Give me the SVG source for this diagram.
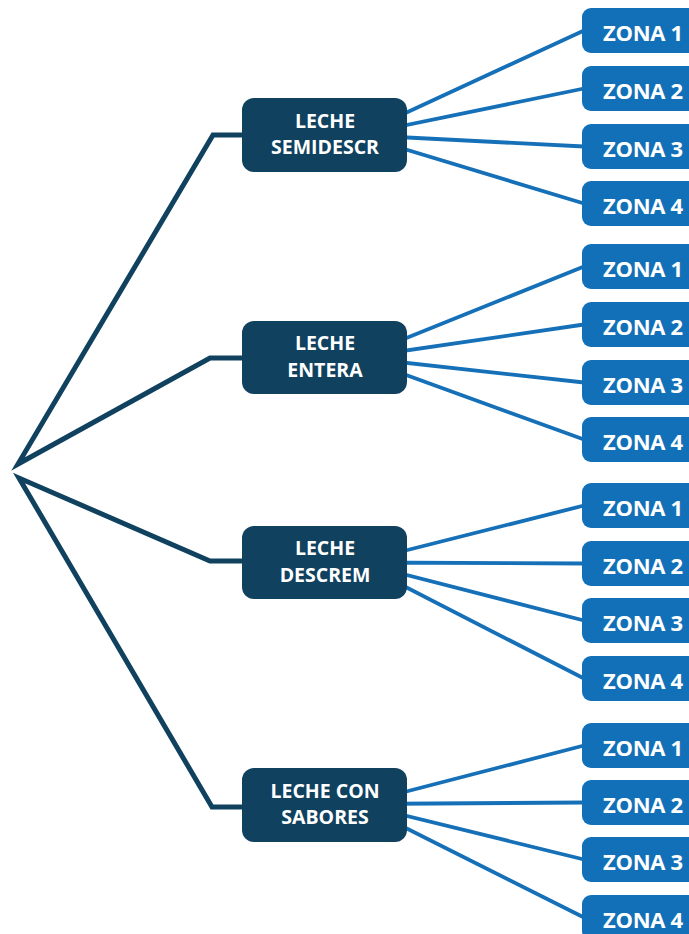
<svg xmlns="http://www.w3.org/2000/svg" width="689" height="934" viewBox="0 0 689 934">
<style>
.trunk{fill:none;stroke:#10425f;stroke-width:5;stroke-linejoin:miter;stroke-miterlimit:6}
.branch{fill:none;stroke:#1570b8;stroke-width:3.8}
.cat rect{fill:#10425f}
.zone rect{fill:#1270b8}
.cat text{font-family:"Open Sans","Liberation Sans",sans-serif;font-weight:bold;font-size:19.5px;fill:#fff;text-anchor:middle}
.zone text{font-family:"Open Sans","Liberation Sans",sans-serif;font-weight:bold;font-size:22px;fill:#fff;letter-spacing:-0.3px}
</style>
<rect width="689" height="934" fill="#fff"/>
<g id="connectors">
<path class="trunk" d="M245,135 L213,135 L18,464 L210,358 L245,358"/>
<path class="trunk" d="M245,561 L210,561 L19,478 L212,807 L245,807"/>
<path class="branch" d="M358,135 L584,30.5 M358,135 L584,88.5 M358,135 L584,146.5 M358,135 L584,203.5"/>
<path class="branch" d="M358,357.5 L584,266.5 M358,357.5 L584,324.5 M358,357.5 L584,382.5 M358,357.5 L584,439.5"/>
<path class="branch" d="M358,562.5 L584,505.5 M358,562.5 L584,563.5 M358,562.5 L584,620.5 M358,562.5 L584,678.5"/>
<path class="branch" d="M358,804 L584,745.5 M358,804 L584,802.5 M358,804 L584,859.5 M358,804 L584,917.5"/>
</g>
<g id="cat-semidescr" class="cat"><rect x="242" y="98" width="165" height="74" rx="12"/><text x="325" y="127.7">LECHE</text><text x="325" y="154.3">SEMIDESCR</text></g>
<g id="cat-entera" class="cat"><rect x="242" y="321" width="165" height="73" rx="12"/><text x="325" y="350.2">LECHE</text><text x="325" y="376.8">ENTERA</text></g>
<g id="cat-descrem" class="cat"><rect x="242" y="526" width="165" height="73" rx="12"/><text x="325" y="555.2">LECHE</text><text x="325" y="581.8">DESCREM</text></g>
<g id="cat-sabores" class="cat"><rect x="242" y="768" width="165" height="74" rx="12"/><text x="325" y="797.7">LECHE CON</text><text x="325" y="824.3">SABORES</text></g>
<g id="z1-1" class="zone"><rect x="582" y="8" width="130" height="45" rx="9"/><text x="603" y="41">ZONA 1</text></g>
<g id="z1-2" class="zone"><rect x="582" y="66" width="130" height="45" rx="9"/><text x="603" y="99">ZONA 2</text></g>
<g id="z1-3" class="zone"><rect x="582" y="124" width="130" height="45" rx="9"/><text x="603" y="157">ZONA 3</text></g>
<g id="z1-4" class="zone"><rect x="582" y="181" width="130" height="45" rx="9"/><text x="603" y="214">ZONA 4</text></g>
<g id="z2-1" class="zone"><rect x="582" y="244" width="130" height="45" rx="9"/><text x="603" y="277">ZONA 1</text></g>
<g id="z2-2" class="zone"><rect x="582" y="302" width="130" height="45" rx="9"/><text x="603" y="335">ZONA 2</text></g>
<g id="z2-3" class="zone"><rect x="582" y="360" width="130" height="45" rx="9"/><text x="603" y="393">ZONA 3</text></g>
<g id="z2-4" class="zone"><rect x="582" y="417" width="130" height="45" rx="9"/><text x="603" y="450">ZONA 4</text></g>
<g id="z3-1" class="zone"><rect x="582" y="483" width="130" height="45" rx="9"/><text x="603" y="516">ZONA 1</text></g>
<g id="z3-2" class="zone"><rect x="582" y="541" width="130" height="45" rx="9"/><text x="603" y="574">ZONA 2</text></g>
<g id="z3-3" class="zone"><rect x="582" y="598" width="130" height="45" rx="9"/><text x="603" y="631">ZONA 3</text></g>
<g id="z3-4" class="zone"><rect x="582" y="656" width="130" height="45" rx="9"/><text x="603" y="689">ZONA 4</text></g>
<g id="z4-1" class="zone"><rect x="582" y="723" width="130" height="45" rx="9"/><text x="603" y="756">ZONA 1</text></g>
<g id="z4-2" class="zone"><rect x="582" y="780" width="130" height="45" rx="9"/><text x="603" y="813">ZONA 2</text></g>
<g id="z4-3" class="zone"><rect x="582" y="837" width="130" height="45" rx="9"/><text x="603" y="870">ZONA 3</text></g>
<g id="z4-4" class="zone"><rect x="582" y="895" width="130" height="45" rx="9"/><text x="603" y="928">ZONA 4</text></g>
</svg>
